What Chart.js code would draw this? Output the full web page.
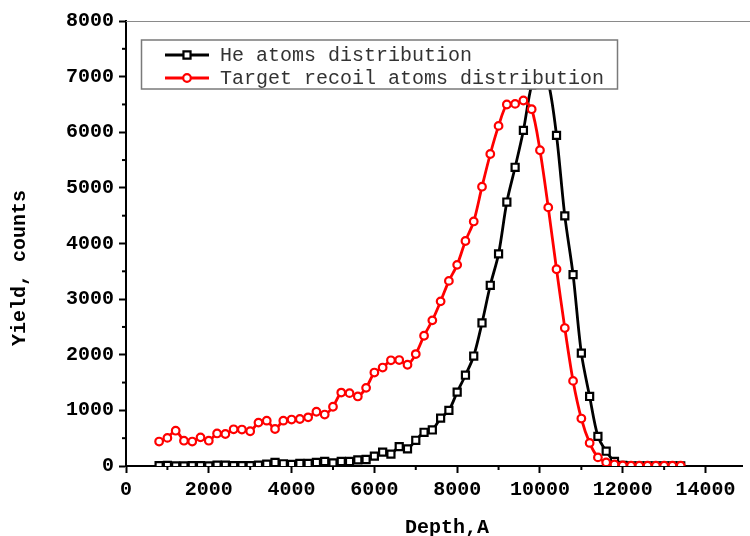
<!DOCTYPE html>
<html>
<head>
<meta charset="utf-8">
<script src="https://cdn.jsdelivr.net/npm/chart.js@4.4.0/dist/chart.umd.min.js"></script>
<style>
  html, body { margin: 0; padding: 0; background: #fff; }
</style>
</head>
<body>
<canvas id="myChart" width="750" height="536"></canvas>
<script>
// depth points, Angstrom
const depth = [800, 1000, 1200, 1400, 1600, 1800, 2000, 2200, 2400, 2600,
  2800, 3000, 3200, 3400, 3600, 3800, 4000, 4200, 4400, 4600,
  4800, 5000, 5200, 5400, 5600, 5800, 6000, 6200, 6400, 6600,
  6800, 7000, 7200, 7400, 7600, 7800, 8000, 8200, 8400, 8600,
  8800, 9000, 9200, 9400, 9600, 9800, 10000, 10200, 10400, 10600,
  10800, 11000, 11200, 11400, 11600, 11800, 12000, 12200, 12400, 12600,
  12800, 13000, 13200, 13400];

// He atoms distribution (black squares)
const heAtoms = [5, 10, 0, 0, 5, 5, 2, 15, 15, 5,
  5, 5, 15, 33, 63, 40, 27, 45, 45, 63,
  81, 57, 81, 81, 111, 117, 177, 249, 213, 348,
  309, 462, 606, 648, 861, 999, 1328, 1632, 1977, 2571,
  3249, 3813, 4745, 5370, 6033, 6850, 7150, 6900, 5943, 4496,
  3441, 2030, 1250, 533, 266, 81, 10, 3, 2, 2,
  2, 2, 2, 2];

// Target recoil atoms distribution (red circles)
const recoilAtoms = [440, 505, 635, 455, 440, 515, 455, 585, 575, 660,
  655, 625, 780, 815, 665, 815, 835, 845, 875, 975,
  925, 1065, 1320, 1310, 1250, 1405, 1680, 1770, 1900, 1905,
  1820, 2012, 2342, 2618, 2960, 3328, 3616, 4045, 4396, 5021,
  5609, 6114, 6499, 6510, 6571, 6414, 5676, 4649, 3537, 2480,
  1530, 853, 415, 155, 65, 27, 9, 5, 5, 5,
  5, 5, 5, 5];

const xTicks = [0, 2000, 4000, 6000, 8000, 10000, 12000, 14000];
const xMinor = [1000, 3000, 5000, 7000, 9000, 11000, 13000];
const yTicks = [0, 1000, 2000, 3000, 4000, 5000, 6000, 7000, 8000];
const yMinor = [500, 1500, 2500, 3500, 4500, 5500, 6500, 7500];

const xTitle = 'Depth,A';
const yTitle = 'Yield, counts';

const tickFont = { family: '"Liberation Mono", monospace', size: 20, weight: 'bold' };

// minor ticks, top frame line, axis titles and the boxed legend
var extrasPlugin = {
  id: 'extras',
  afterDraw: function(chart) {
    var ctx = chart.ctx;
    var area = chart.chartArea;
    var xs = chart.scales.x, ys = chart.scales.y;
    ctx.save();

    ctx.strokeStyle = '#000';
    ctx.lineWidth = 2;
    xMinor.forEach(function(v) {
      var px = xs.getPixelForValue(v);
      ctx.beginPath();
      ctx.moveTo(px, area.bottom);
      ctx.lineTo(px, area.bottom + 4);
      ctx.stroke();
    });
    yMinor.forEach(function(v) {
      var py = ys.getPixelForValue(v);
      ctx.beginPath();
      ctx.moveTo(area.left, py);
      ctx.lineTo(area.left - 4, py);
      ctx.stroke();
    });

    ctx.strokeStyle = '#8a8a8a';
    ctx.lineWidth = 1;
    ctx.beginPath();
    ctx.moveTo(area.left, area.top + 0.5);
    ctx.lineTo(chart.width, area.top + 0.5);
    ctx.stroke();

    ctx.fillStyle = '#000';
    ctx.font = 'bold 20px "Liberation Mono", monospace';
    ctx.textAlign = 'center';
    ctx.textBaseline = 'middle';
    ctx.fillText(xTitle, 447, 528);
    ctx.save();
    ctx.translate(20, 268);
    ctx.rotate(-Math.PI / 2);
    ctx.fillText(yTitle, 0, 0);
    ctx.restore();
    ctx.restore();
  },
  afterDatasetsDraw: function(chart) {
    var ctx = chart.ctx;
    ctx.save();
    ctx.fillStyle = '#fff';
    ctx.fillRect(141.5, 40, 476, 49);
    ctx.strokeStyle = '#7a7a7a';
    ctx.lineWidth = 1.5;
    ctx.strokeRect(141.5, 40, 476, 49);

    var rows = [55, 78];
    var sets = [chart.data.datasets[1], chart.data.datasets[0]];
    sets.forEach(function(ds, i) {
      var y = rows[i];
      ctx.strokeStyle = ds.borderColor;
      ctx.lineWidth = ds.borderWidth;
      ctx.beginPath();
      ctx.moveTo(165, y);
      ctx.lineTo(209, y);
      ctx.stroke();
      ctx.fillStyle = '#fff';
      ctx.lineWidth = ds.pointBorderWidth;
      ctx.beginPath();
      if (ds.pointStyle === 'rect') {
        var s = Math.SQRT1_2 * ds.pointRadius;
        ctx.rect(187 - s, y - s, 2 * s, 2 * s);
      } else {
        ctx.arc(187, y, ds.pointRadius, 0, Math.PI * 2);
      }
      ctx.fill();
      ctx.stroke();
      ctx.fillStyle = '#333';
      ctx.font = '20px "Liberation Mono", monospace';
      ctx.textAlign = 'left';
      ctx.textBaseline = 'middle';
      ctx.fillText(ds.label, 220, y + 1);
    });
    ctx.restore();
  }
};

function plainLabel(v) { return String(v); }

var ctx = document.getElementById('myChart').getContext('2d');
var depthChart = new Chart(ctx, {
  type: 'line',
  data: {
    labels: depth,
    datasets: [{
      label: 'Target recoil atoms distribution',
      data: recoilAtoms,
      borderColor: '#ff0000',
      borderWidth: 2.8,
      pointStyle: 'circle',
      pointRadius: 3.8,
      pointBorderWidth: 2.2,
      pointBorderColor: '#ff0000',
      pointBackgroundColor: '#fff',
      tension: 0.3,
      order: 0
    }, {
      label: 'He atoms distribution',
      data: heAtoms,
      borderColor: '#000000',
      borderWidth: 2.8,
      pointStyle: 'rect',
      pointRadius: 5,
      pointBorderWidth: 2.2,
      pointBorderColor: '#000000',
      pointBackgroundColor: '#fff',
      tension: 0.3,
      order: 1
    }]
  },
  options: {
    responsive: false,
    animation: false,
    layout: { padding: { top: 21, right: 0, left: 0, bottom: 0 } },
    plugins: {
      legend: { display: false },
      tooltip: { enabled: false }
    },
    scales: {
      x: {
        type: 'linear',
        min: 0,
        max: 14900,
        afterBuildTicks: function(s) { s.ticks = xTicks.map(function(v) { return { value: v }; }); },
        afterFit: function(s) { s.height = 70; s.paddingRight = 0; },
        ticks: { font: tickFont, color: '#000', padding: 5, maxRotation: 0, autoSkip: false, callback: plainLabel },
        grid: { drawOnChartArea: false, drawTicks: true, tickLength: 7, tickWidth: 2, tickColor: '#000' },
        border: { color: '#000', width: 2 }
      },
      y: {
        min: 0,
        max: 8000,
        afterBuildTicks: function(s) { s.ticks = yTicks.map(function(v) { return { value: v }; }); },
        afterFit: function(s) { s.width = 126; },
        ticks: { font: tickFont, color: '#000', padding: 5, callback: plainLabel },
        grid: { drawOnChartArea: false, drawTicks: true, tickLength: 7, tickWidth: 2, tickColor: '#000' },
        border: { color: '#000', width: 2 }
      }
    }
  },
  plugins: [extrasPlugin]
});
</script>
</body>
</html>
